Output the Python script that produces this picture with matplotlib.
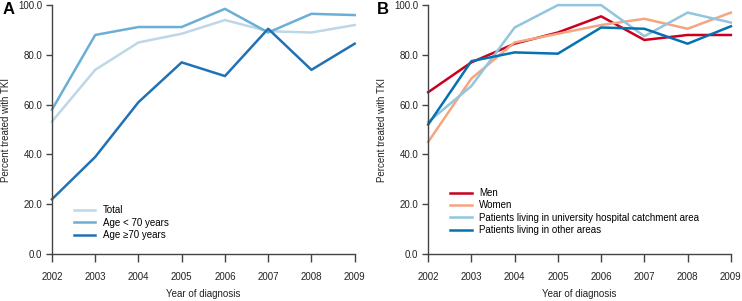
import numpy as np
import matplotlib.pyplot as plt

years = [2002, 2003, 2004, 2005, 2006, 2007, 2008, 2009]

# panel A
total = [53.2, 74.0, 85.0, 88.5, 94.0, 89.5, 89.0, 92.0]
age_lt70 = [58.0, 88.0, 91.2, 91.2, 98.5, 89.0, 96.5, 96.0]
age_ge70 = [22.0, 39.0, 61.0, 77.0, 71.5, 90.5, 74.0, 84.5]

# panel B
men = [65.0, 77.0, 84.5, 89.0, 95.5, 86.0, 88.0, 88.0]
women = [45.0, 70.5, 85.0, 88.5, 92.0, 94.5, 90.5, 97.0]
univ_area = [53.0, 67.5, 91.0, 100.0, 100.0, 87.5, 97.0, 93.0]
other_area = [52.0, 77.5, 81.0, 80.5, 91.0, 90.5, 84.5, 91.5]

yticks = [0, 20, 40, 60, 80, 100]

plt.rcParams['font.family'] = ['Liberation Sans', 'DejaVu Sans']

fig = plt.figure(figsize=(7.42, 3.01), dpi=100)
axA = fig.add_axes([0.070, 0.156, 0.408, 0.827])
axB = fig.add_axes([0.577, 0.156, 0.408, 0.827])


def style(ax):
    ax.set_xlim(2002, 2009)
    ax.set_ylim(0, 100)
    ax.set_xticks(years)
    ax.set_yticks(yticks)
    ax.set_yticklabels(['%.1f' % v for v in yticks])
    for s in ['top', 'right']:
        ax.spines[s].set_visible(False)
    for s in ['left', 'bottom']:
        ax.spines[s].set_color('#444444')
        ax.spines[s].set_linewidth(1.0)
    ax.tick_params(axis='x', length=6, width=1.0, color='#444444', labelsize=7, pad=7, labelcolor='#222222')
    ax.tick_params(axis='y', length=4, width=1.0, color='#444444', labelsize=7, pad=3, labelcolor='#222222')
    ax.set_xlabel('Year of diagnosis', fontsize=7, labelpad=5, color='#222222')
    ax.set_ylabel('Percent treated with TKI', fontsize=7, labelpad=5, color='#222222')


lw = 1.8
axA.plot(years, total, color='#bdd7e7', lw=lw, label='Total', clip_on=False)
axA.plot(years, age_lt70, color='#6baed6', lw=lw, label='Age < 70 years', clip_on=False)
axA.plot(years, age_ge70, color='#2171b5', lw=lw, label='Age \u226570 years', clip_on=False)
style(axA)
axA.legend(loc='lower left', bbox_to_anchor=(0.06, 0.04), frameon=False, fontsize=7,
           handlelength=2.2, handletextpad=0.8, labelspacing=0.25, borderaxespad=0)

axB.plot(years, men, color='#ca0020', lw=lw, label='Men', clip_on=False)
axB.plot(years, women, color='#f4a582', lw=lw, label='Women', clip_on=False)
axB.plot(years, univ_area, color='#92c5de', lw=lw,
         label='Patients living in university hospital catchment area', clip_on=False)
axB.plot(years, other_area, color='#0571b0', lw=lw, label='Patients living in other areas', clip_on=False)
style(axB)
axB.legend(loc='lower left', bbox_to_anchor=(0.06, 0.06), frameon=False, fontsize=7,
           handlelength=2.2, handletextpad=0.8, labelspacing=0.25, borderaxespad=0)

fig.text(0.003, 0.995, 'A', fontsize=12, fontweight='bold', va='top', ha='left')
fig.text(0.508, 0.995, 'B', fontsize=12, fontweight='bold', va='top', ha='left')

fig.savefig('out.png', dpi=100)
